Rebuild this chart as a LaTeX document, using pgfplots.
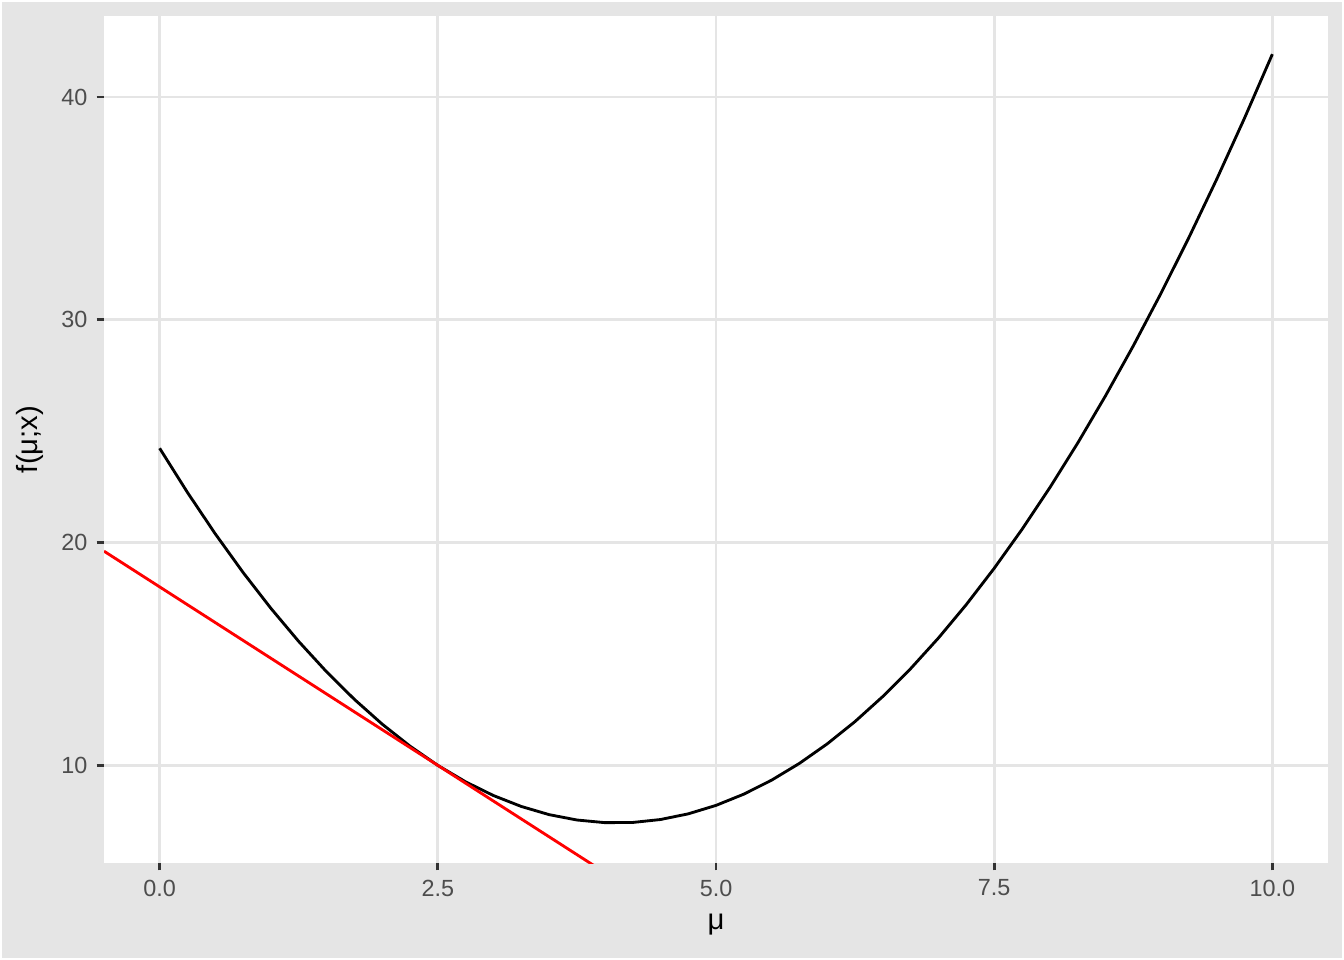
\documentclass[border=0pt]{standalone}
\usepackage{pgfplots}
\pgfplotsset{compat=1.18}
\usepackage{fontspec}
\setmainfont{Liberation Sans}
\definecolor{bggray}{HTML}{E5E5E5}
\definecolor{gridgray}{HTML}{E5E5E5}
\definecolor{tickgray}{HTML}{333333}
\definecolor{labgray}{HTML}{4D4D4D}
\pgfplotstableread{
x y
0.00 24.236
0.25 22.253
0.50 20.394
0.75 18.660
1.00 17.050
1.25 15.564
1.50 14.203
1.75 12.966
2.00 11.854
2.25 10.866
2.50 10.002
2.75 9.263
3.00 8.648
3.25 8.158
3.50 7.791
3.75 7.550
4.00 7.432
4.25 7.439
4.50 7.571
4.75 7.826
5.00 8.206
5.25 8.711
5.50 9.340
5.75 10.093
6.00 10.970
6.25 11.972
6.50 13.099
6.75 14.349
7.00 15.725
7.25 17.224
7.50 18.848
7.75 20.596
8.00 22.468
8.25 24.465
8.50 26.587
8.75 28.832
9.00 31.202
9.25 33.697
9.50 36.316
9.75 39.059
10.00 41.927
}\curvedata
\begin{document}
\begin{tikzpicture}
\useasboundingbox (0,0) rectangle (505.89pt,361.35pt);
\fill[white] (0,0) rectangle (505.89pt,361.35pt);
\fill[bggray] (0.6pt,0.6pt) rectangle (505.29pt,360.75pt);
\begin{axis}[
  at={(39.15pt,36.51pt)}, anchor=south west,
  width=460.72pt, height=318.82pt, scale only axis,
  xmin=-0.5, xmax=10.5, ymin=5.62, ymax=43.64,
  axis background/.style={fill=white},
  axis line style={draw=none},
  xtick={0,2.5,5,7.5,10}, xticklabels={0.0,2.5,5.0,7.5,10.0},
  ytick={10,20,30,40},
  minor tick num=0,
  grid=major, major grid style={gridgray, line width=1.07pt},
  tick align=outside, major tick length=2.75pt,
  tick style={tickgray, line width=1.07pt},
  xtick pos=lower, ytick pos=left,
  tick label style={font=\fontsize{8.8}{10}\selectfont, text=labgray},
  /pgf/number format/assume math mode=true,
  xlabel={μ}, ylabel={f(μ;x)},
  label style={font=\fontsize{11}{13}\selectfont},
  clip=true,
]
\addplot[black, line width=1.07pt, line join=round] table {\curvedata};
\addplot[red, line width=1.07pt] coordinates {(-0.5,19.617) (4.5,3.592)};
\end{axis}
\end{tikzpicture}
\end{document}
